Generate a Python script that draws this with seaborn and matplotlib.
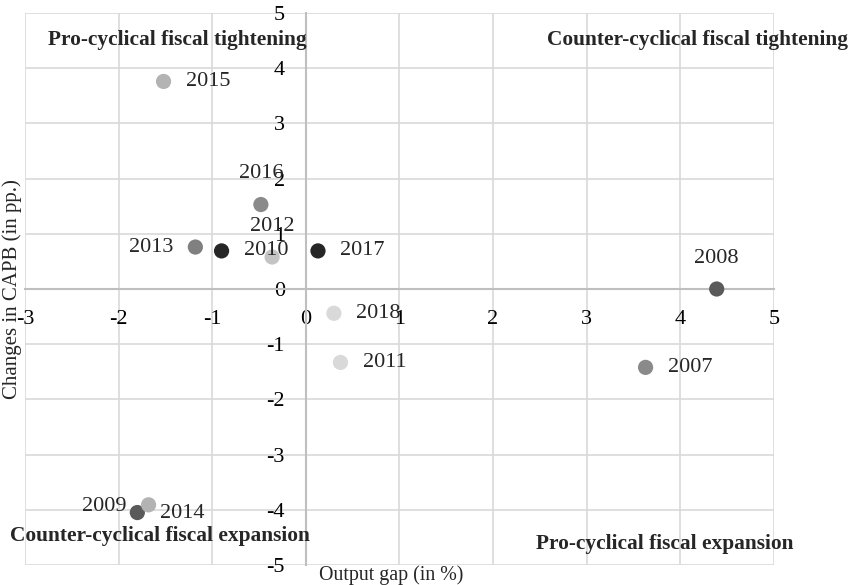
import pandas as pd
import matplotlib.pyplot as plt
import seaborn as sns

# data
years = ['2007', '2008', '2009', '2010', '2011', '2012', '2013', '2014', '2015', '2016', '2017', '2018']
output_gap = [3.63, 4.39, -1.80, -0.90, 0.37, -0.36, -1.18, -1.68, -1.52, -0.48, 0.13, 0.30]
capb_change = [-1.42, 0.0, -4.05, 0.69, -1.33, 0.58, 0.76, -3.91, 3.76, 1.53, 0.69, -0.44]
point_colors = ['#8a8a8a', '#5a5a5a', '#5a5a5a', '#262626', '#d9d9d9', '#c4c4c4',
                '#808080', '#b3b3b3', '#b3b3b3', '#8a8a8a', '#262626', '#d9d9d9']

quadrant_labels = ['Pro-cyclical fiscal tightening', 'Counter-cyclical fiscal tightening',
                   'Counter-cyclical fiscal expansion', 'Pro-cyclical fiscal expansion']

# where each year label sits relative to its point (offset in points, ha)
label_place = {
    '2007': (16, 0, 'left'), '2008': (0, 22, 'center'), '2009': (-8, 4, 'right'),
    '2010': (16, 0, 'left'), '2011': (16, 0, 'left'), '2012': (0, 22, 'center'),
    '2013': (-16, 0, 'right'), '2014': (8, -6, 'left'), '2015': (16, 0, 'left'),
    '2016': (0, 22, 'center'), '2017': (16, 0, 'left'), '2018': (16, 0, 'left'),
}

df = pd.DataFrame({'year': years, 'gap': output_gap, 'capb': capb_change})

sns.set_theme(style='white')
plt.rcParams['font.family'] = ['Liberation Serif', 'DejaVu Serif']
plt.rcParams['font.size'] = 16
plt.rcParams['axes.unicode_minus'] = False

fig = plt.figure(figsize=(8.48, 5.85), dpi=100)
ax = fig.add_axes([0.0295, 0.0342, 0.883, 0.9436])

sns.scatterplot(data=df, x='gap', y='capb', hue='year',
                palette=dict(zip(years, point_colors)), s=120,
                edgecolor='none', legend=False, ax=ax, zorder=3)

ax.set_xlim(-3, 5)
ax.set_ylim(-5, 5)
ax.set_xticks(range(-3, 6))
ax.set_yticks(range(-5, 6))
ax.grid(True, color='#d9d9d9', linewidth=1.2, zorder=0)

for side in ['top', 'right']:
    ax.spines[side].set_visible(False)
ax.spines['left'].set_position(('data', 0))
ax.spines['bottom'].set_position(('data', 0))
ax.spines['left'].set_color('#bfbfbf')
ax.spines['bottom'].set_color('#bfbfbf')
ax.spines['left'].set_linewidth(1.5)
ax.spines['bottom'].set_linewidth(1.5)
ax.tick_params(axis='both', length=0, labelsize=16, colors='black')
ax.tick_params(axis='y', pad=15)
ax.tick_params(axis='x', pad=15)
ax.set_xlabel('')
ax.set_ylabel('')

for yr, gx, cy in zip(years, output_gap, capb_change):
    dx, dy, ha = label_place[yr]
    ax.annotate(yr, (gx, cy), xytext=(dx, dy), textcoords='offset points',
                ha=ha, va='center', fontsize=16, zorder=4)

quad_pos = [(-1.37, 4.51), (4.18, 4.51), (-1.56, -4.47), (3.84, -4.62)]
for txt, (qx, qy) in zip(quadrant_labels, quad_pos):
    ax.text(qx, qy, txt, ha='center', va='center', fontsize=15.4,
            fontweight='bold', clip_on=False, zorder=5)

fig.text(0.014, 0.506, 'Changes in CAPB (in pp.)', rotation=90,
         ha='center', va='center', fontsize=15)
fig.text(0.461, 0.017, 'Output gap (in %)', ha='center', va='center', fontsize=14.3)

fig.savefig('out.png', dpi=100)
